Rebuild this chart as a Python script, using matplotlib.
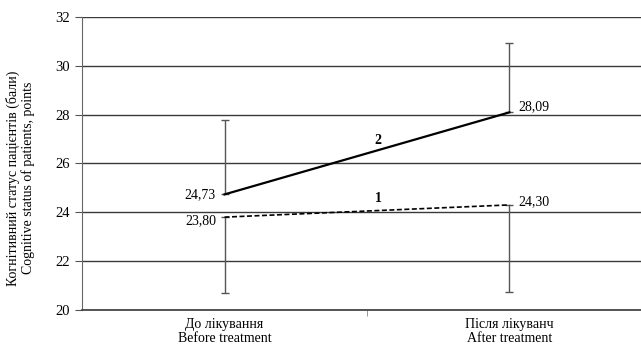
import matplotlib
matplotlib.use("Agg")
import matplotlib.pyplot as plt

# before / after treatment, two patient groups
categories = ["До лікування\nBefore treatment", "Після лікуванч\nAfter treatment"]
group1 = [23.80, 24.30]
group2 = [24.73, 28.09]
# one-sided error bars: group 1 drawn downwards, group 2 upwards
group1_err = [3.10, 3.56]
group2_err = [3.06, 2.85]
labels1 = ["23,80", "24,30"]
labels2 = ["24,73", "28,09"]

plt.rcParams["font.family"] = ["Liberation Serif", "DejaVu Serif"]

fig = plt.figure(figsize=(6.41, 3.51), dpi=100)
ax = fig.add_axes([0.128, 0.117, 0.889, 0.835])

x = [0.5, 1.5]
ax.set_xlim(0, 2)
ax.set_ylim(20, 32)
ax.set_yticks(range(20, 33, 2))
ax.yaxis.grid(True, color="#3a3a3a", linewidth=1.0)
ax.set_axisbelow(True)

ax.errorbar(x, group2, yerr=[[0, 0], group2_err], fmt="none",
            ecolor="#555555", elinewidth=1.0, capsize=3, capthick=1.0)
ax.errorbar(x, group1, yerr=[group1_err, [0, 0]], fmt="none",
            ecolor="#555555", elinewidth=1.0, capsize=3, capthick=1.0)
ax.plot(x, group2, color="black", linewidth=1.6)
ax.plot(x, group1, color="black", linewidth=1.2, linestyle=(0, (3, 1.5)))

for xi, v, s in zip(x, group2, labels2):
    if xi < 1:
        ax.text(xi - 0.03, v, s, ha="right", va="center", fontsize=10)
    else:
        ax.text(xi + 0.03, v + 0.25, s, ha="left", va="center", fontsize=10)
for xi, v, s in zip(x, group1, labels1):
    if xi < 1:
        ax.text(xi - 0.03, v - 0.15, s, ha="right", va="center", fontsize=10)
    else:
        ax.text(xi + 0.03, v + 0.15, s, ha="left", va="center", fontsize=10)

ax.text(1.04, 26.95, "2", ha="center", va="center", fontsize=10, fontweight="bold")
ax.text(1.04, 24.55, "1", ha="center", va="center", fontsize=10, fontweight="bold")

ax.set_xticks(x)
ax.set_xticklabels(categories, fontsize=10, linespacing=1.1)
ax.tick_params(axis="x", length=0, pad=6)
ax.set_xticks([1.0], minor=True)
ax.tick_params(axis="x", which="minor", length=4, color="#888888")
ax.tick_params(axis="y", labelsize=10.5, length=5, color="#555555", pad=4)

for side in ("top", "right"):
    ax.spines[side].set_visible(False)
ax.spines["left"].set_color("#666666")
ax.spines["bottom"].set_color("#3a3a3a")
ax.spines["bottom"].set_linewidth(1.2)

ax.set_ylabel("Когнітивний статус пацієнтів (бали)\nCognitive status of patients, points",
              fontsize=10, linespacing=1.05)
ax.yaxis.set_label_coords(-0.083, 0.45)

fig.savefig("out.png", dpi=100)
